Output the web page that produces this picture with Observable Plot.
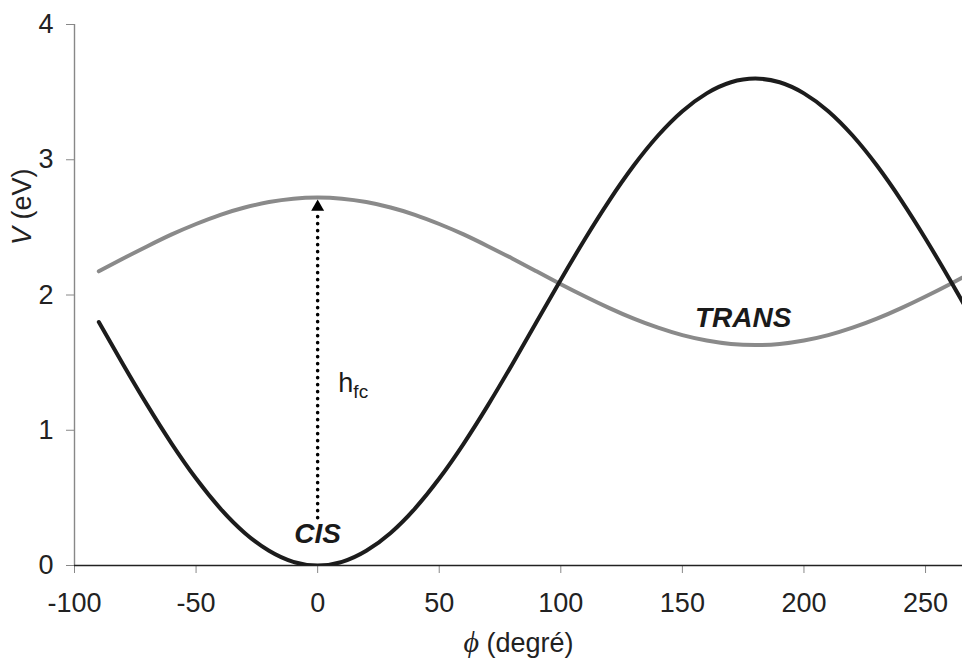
<!DOCTYPE html>
<html><head><meta charset="utf-8">
<script src="https://cdn.jsdelivr.net/npm/d3@7"></script>
<script src="https://cdn.jsdelivr.net/npm/@observablehq/plot@0.6"></script>
<style>
body{margin:0;background:#fff}
svg{font-family:"Liberation Sans",Arial,sans-serif}
</style>
</head><body><div id="chart"></div>
<script>
// angle phi (degrees)
const phi = [-90,-80,-70,-60,-50,-40,-30,-20,-10,0,10,20,30,40,50,60,70,80,90,100,110,120,130,140,150,160,170,180,190,200,210,220,230,240,250,260,270];
// black curve V (eV)
const cisV = [1.800,1.487,1.184,0.900,0.643,0.421,0.241,0.109,0.027,0.000,0.027,0.109,0.241,0.421,0.643,0.900,1.184,1.487,1.800,2.113,2.416,2.700,2.957,3.179,3.359,3.491,3.573,3.600,3.573,3.491,3.359,3.179,2.957,2.700,2.416,2.113,1.800];
// gray curve V (eV)
const transV = [2.175,2.270,2.361,2.448,2.525,2.593,2.647,2.687,2.712,2.720,2.712,2.687,2.647,2.593,2.525,2.448,2.361,2.270,2.175,2.080,1.989,1.903,1.825,1.758,1.703,1.663,1.638,1.630,1.638,1.663,1.703,1.758,1.825,1.903,1.989,2.080,2.175];
const xTicks = [-100,-50,0,50,100,150,200,250];
const yTicks = [0,1,2,3,4];
const xDomain = [-100, 265.2];
const yDomain = [0, 4];
// h_fc arrow (phi, from V, to V)
const arrowPhi = [0];
const arrowFrom = [0.35];
const arrowTo = [2.61];
const arrowTip = [2.65];
// annotations
const labelNames = ["CIS", "TRANS"];
const labelPhi = [0, 175];
const labelV = [0.23, 1.83];
const hfcPos = [{phi: 8.5, v: 1.35}];
const xTitle = "ϕ (degré)";
const yTitle = "V (eV)";
const yTitleV = 2.37;

const data = phi.map((p, i) => ({phi: p, cis: cisV[i], trans: transV[i]}));
const labels = labelNames.map((n, i) => ({name: n, phi: labelPhi[i], v: labelV[i]}));
const arrow = arrowPhi.map((p, i) => ({phi: p, y1: arrowFrom[i], y2: arrowTo[i], tip: arrowTip[i]}));

const chart = Plot.plot({
  width: 962, height: 659,
  marginLeft: 74, marginRight: 0, marginTop: 24, marginBottom: 94,
  x: {domain: xDomain},
  y: {domain: yDomain},
  style: {fontFamily: '"Liberation Sans", Arial, sans-serif', fontSize: "27px", color: "#222", background: "white"},
  marks: [
    Plot.axisY({ticks: yTicks, tickSize: 8, tickPadding: 13, stroke: "#888", fill: "#222", fontSize: 27, label: null, tickFormat: d => String(d)}),
    Plot.axisX({ticks: xTicks, tickSize: 8, tickPadding: 19, stroke: "#888", fill: "#222", fontSize: 27, label: null, tickFormat: d => String(d)}),
    Plot.ruleX([xDomain[0]], {stroke: "#888", strokeWidth: 1.4}),
    Plot.ruleY([0], {stroke: "#222", strokeWidth: 1.4}),
    Plot.line(data, {x: "phi", y: "trans", stroke: "#8a8a8a", strokeWidth: 4, curve: "natural", clip: true}),
    Plot.line(data, {x: "phi", y: "cis", stroke: "#1c1c1c", strokeWidth: 4, curve: "natural", clip: true}),
    Plot.ruleX(arrow, {x: "phi", y1: "y1", y2: "y2", stroke: "#000", strokeWidth: 3.6, strokeDasharray: "0,7", strokeLinecap: "round"}),
    Plot.dot(arrow, {x: "phi", y: "tip", symbol: "triangle", r: 4.8, fill: "#000", stroke: "none"}),
    Plot.text(labels, {x: "phi", y: "v", text: "name", fontWeight: "bold", fontStyle: "italic", fontSize: 28, fill: "#1a1a1a"}),
    Plot.text(hfcPos, {x: "phi", y: "v", text: () => "hfc", textAnchor: "start", fontSize: 27, fill: "#1a1a1a"}),
    Plot.text([xTitle], {frameAnchor: "bottom", text: d => d, dy: 86, fontSize: 27, fill: "#222"}),
    Plot.text([yTitle], {frameAnchor: "left", y: () => yTitleV, text: d => d, rotate: -90, dx: -52, fontSize: 27, fill: "#222"})
  ]
});
document.getElementById("chart").appendChild(chart);

d3.select(chart).selectAll("text").each(function() {
  const t = this.textContent;
  if (t === "hfc") {
    this.textContent = "";
    const s = d3.select(this);
    s.append("tspan").text("h");
    s.append("tspan").attr("font-size", 19).attr("dy", "0.35em").text("fc");
  } else if (t === xTitle) {
    this.textContent = "";
    const s = d3.select(this);
    s.append("tspan").attr("font-family", '"Liberation Serif", "DejaVu Serif", serif').attr("font-style", "italic").attr("font-size", 30).text("ϕ");
    s.append("tspan").text(" (degré)");
  } else if (t === yTitle) {
    this.textContent = "";
    const s = d3.select(this);
    s.append("tspan").attr("font-style", "italic").text("V");
    s.append("tspan").text(" (eV)");
  }
});
</script>
</body></html>
